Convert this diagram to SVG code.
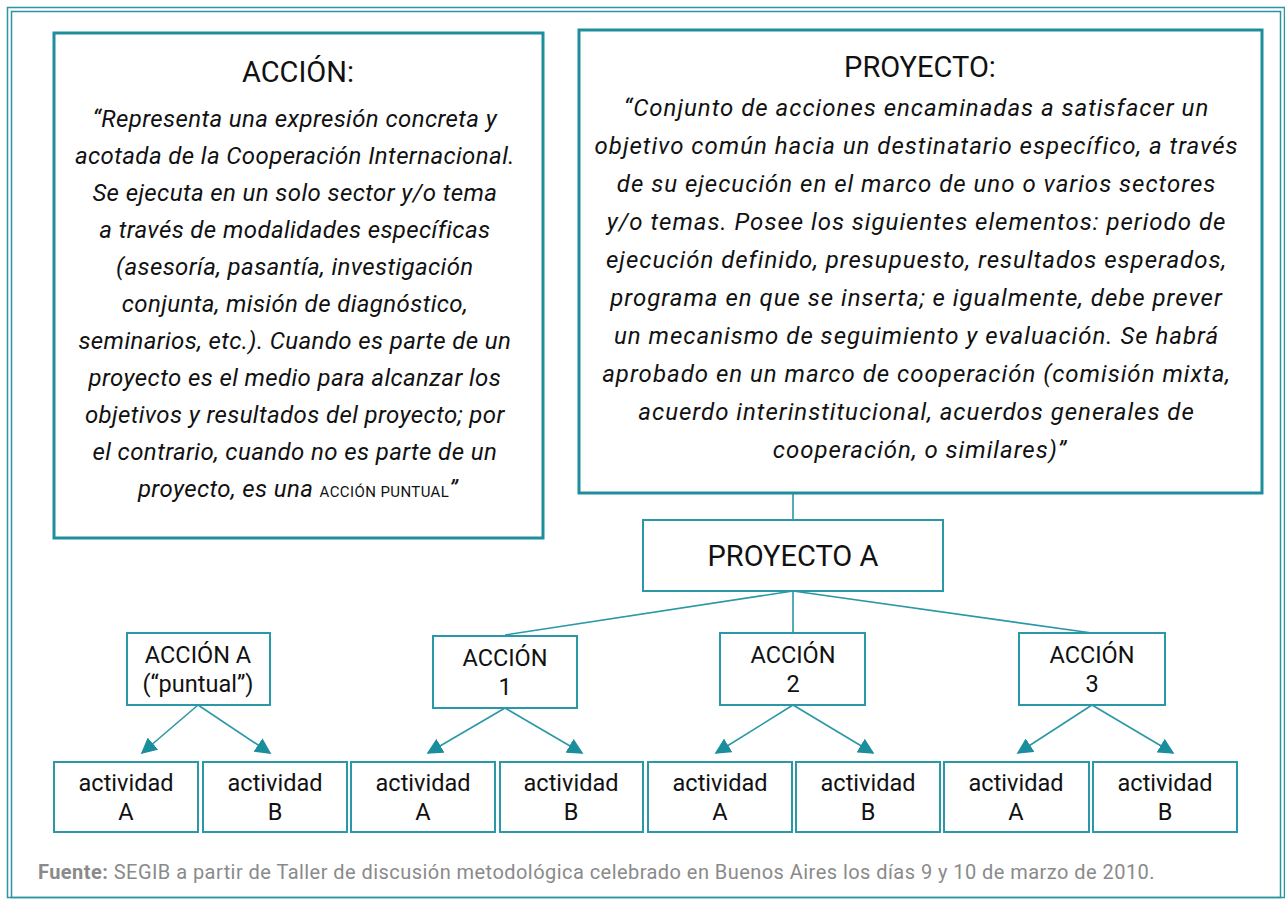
<svg xmlns="http://www.w3.org/2000/svg" width="1285" height="900" viewBox="0 0 1285 900">
<style>
.frame{fill:none;stroke:#2a95a3;stroke-width:1.5}
.big{fill:#fff;stroke:#1f8e9c;stroke-width:3}
.sm{fill:#fff;stroke:#2a98a6;stroke-width:2}
.ttl{font-family:Roboto,"Liberation Sans",sans-serif;font-size:29px;fill:#111;text-anchor:middle}
.body{font-family:Roboto,"Liberation Sans",sans-serif;font-size:24px;font-style:italic;fill:#111;text-anchor:middle;letter-spacing:0.4px}
.bodyp{font-family:Roboto,"Liberation Sans",sans-serif;font-size:24px;font-style:italic;fill:#111;text-anchor:middle;letter-spacing:1px}
.lbl{font-family:Roboto,"Liberation Sans",sans-serif;font-size:23.5px;fill:#111;text-anchor:middle}
.src{font-family:Roboto,"Liberation Sans",sans-serif;font-size:20px;fill:#8a8a8a;letter-spacing:0.45px}
.ln{stroke:#2a98a6;stroke-width:1.6;fill:none}
</style>
<defs>
<marker id="ah" viewBox="0 0 10 10" refX="9" refY="5" markerWidth="16" markerHeight="16" markerUnits="userSpaceOnUse" orient="auto">
<path d="M0,0 L10,5 L0,10 Z" fill="#1a8e9c"/>
</marker>
</defs>
<rect width="1285" height="900" fill="#fff"/>
<rect x="7.5" y="7.5" width="1277" height="890" class="frame"/>
<rect x="11.5" y="11.5" width="1269" height="886" class="frame"/>

<g id="connectors">
<line x1="793" y1="493" x2="793" y2="520" class="ln"/>
<line x1="793" y1="591" x2="505" y2="635" class="ln"/>
<line x1="793" y1="591" x2="793" y2="633" class="ln"/>
<line x1="793" y1="591" x2="1092" y2="633" class="ln"/>
<line x1="198" y1="705" x2="142" y2="753" class="ln" marker-end="url(#ah)"/>
<line x1="198" y1="705" x2="270" y2="753" class="ln" marker-end="url(#ah)"/>
<line x1="505" y1="708" x2="428" y2="753" class="ln" marker-end="url(#ah)"/>
<line x1="505" y1="708" x2="582" y2="753" class="ln" marker-end="url(#ah)"/>
<line x1="793" y1="705" x2="716" y2="753" class="ln" marker-end="url(#ah)"/>
<line x1="793" y1="705" x2="873" y2="753" class="ln" marker-end="url(#ah)"/>
<line x1="1092" y1="705" x2="1018" y2="753" class="ln" marker-end="url(#ah)"/>
<line x1="1092" y1="705" x2="1173" y2="753" class="ln" marker-end="url(#ah)"/>
</g>

<g id="accion-def">
<rect x="54" y="33" width="489" height="505" class="big"/>
<text x="298" y="82" class="ttl">ACCIÓN:</text>
<text class="body">
<tspan x="298" y="127">“Representa una expresión concreta y</tspan>
<tspan x="298" y="164">acotada de la Cooperación Internacional.</tspan>
<tspan x="298" y="201">Se ejecuta en un solo sector y/o tema</tspan>
<tspan x="298" y="238">a través de modalidades específicas</tspan>
<tspan x="298" y="275">(asesoría, pasantía, investigación</tspan>
<tspan x="298" y="312">conjunta, misión de diagnóstico,</tspan>
<tspan x="298" y="349">seminarios, etc.). Cuando es parte de un</tspan>
<tspan x="298" y="386">proyecto es el medio para alcanzar los</tspan>
<tspan x="298" y="423">objetivos y resultados del proyecto; por</tspan>
<tspan x="298" y="460">el contrario, cuando no es parte de un</tspan>
<tspan x="298" y="497">proyecto, es una <tspan font-size="15" font-style="normal">ACCIÓN PUNTUAL</tspan>”</tspan>
</text>
</g>

<g id="proyecto-def">
<rect x="579" y="30" width="683" height="463" class="big"/>
<text x="920" y="77" class="ttl">PROYECTO:</text>
<text class="bodyp">
<tspan x="920" y="116">“Conjunto de acciones encaminadas a satisfacer un</tspan>
<tspan x="920" y="154">objetivo común hacia un destinatario específico, a través</tspan>
<tspan x="920" y="192">de su ejecución en el marco de uno o varios sectores</tspan>
<tspan x="920" y="230">y/o temas. Posee los siguientes elementos: periodo de</tspan>
<tspan x="920" y="268">ejecución definido, presupuesto, resultados esperados,</tspan>
<tspan x="920" y="306">programa en que se inserta; e igualmente, debe prever</tspan>
<tspan x="920" y="344">un mecanismo de seguimiento y evaluación. Se habrá</tspan>
<tspan x="920" y="382">aprobado en un marco de cooperación (comisión mixta,</tspan>
<tspan x="920" y="420">acuerdo interinstitucional, acuerdos generales de</tspan>
<tspan x="920" y="458">cooperación, o similares)”</tspan>
</text>
</g>

<g id="proyecto-a">
<rect x="643" y="520" width="300" height="71" class="sm"/>
<text x="793" y="566" class="ttl">PROYECTO A</text>
</g>

<g id="accion-a">
<rect x="127" y="633" width="143" height="72" class="sm"/>
<text x="198" y="663" class="lbl">ACCIÓN A</text>
<text x="198" y="692" class="lbl">(“puntual”)</text>
</g>
<g id="accion-1">
<rect x="433" y="636" width="144" height="72" class="sm"/>
<text x="505" y="666" class="lbl">ACCIÓN</text>
<text x="505" y="695" class="lbl">1</text>
</g>
<g id="accion-2">
<rect x="720" y="633" width="145" height="72" class="sm"/>
<text x="793" y="663" class="lbl">ACCIÓN</text>
<text x="793" y="692" class="lbl">2</text>
</g>
<g id="accion-3">
<rect x="1019" y="633" width="146" height="72" class="sm"/>
<text x="1092" y="663" class="lbl">ACCIÓN</text>
<text x="1092" y="692" class="lbl">3</text>
</g>

<g id="act-aA"><rect x="54" y="762" width="144" height="70" class="sm"/><text x="126" y="791" class="lbl">actividad</text><text x="126" y="820" class="lbl">A</text></g>
<g id="act-aB"><rect x="203" y="762" width="144" height="70" class="sm"/><text x="275" y="791" class="lbl">actividad</text><text x="275" y="820" class="lbl">B</text></g>
<g id="act-1A"><rect x="351" y="762" width="144" height="70" class="sm"/><text x="423" y="791" class="lbl">actividad</text><text x="423" y="820" class="lbl">A</text></g>
<g id="act-1B"><rect x="500" y="762" width="143" height="70" class="sm"/><text x="571" y="791" class="lbl">actividad</text><text x="571" y="820" class="lbl">B</text></g>
<g id="act-2A"><rect x="648" y="762" width="144" height="70" class="sm"/><text x="720" y="791" class="lbl">actividad</text><text x="720" y="820" class="lbl">A</text></g>
<g id="act-2B"><rect x="796" y="762" width="144" height="70" class="sm"/><text x="868" y="791" class="lbl">actividad</text><text x="868" y="820" class="lbl">B</text></g>
<g id="act-3A"><rect x="944" y="762" width="145" height="70" class="sm"/><text x="1016" y="791" class="lbl">actividad</text><text x="1016" y="820" class="lbl">A</text></g>
<g id="act-3B"><rect x="1093" y="762" width="144" height="70" class="sm"/><text x="1165" y="791" class="lbl">actividad</text><text x="1165" y="820" class="lbl">B</text></g>

<text x="38" y="879" class="src"><tspan font-weight="bold">Fuente:</tspan> SEGIB a partir de Taller de discusión metodológica celebrado en Buenos Aires los días 9 y 10 de marzo de 2010.</text>
</svg>
